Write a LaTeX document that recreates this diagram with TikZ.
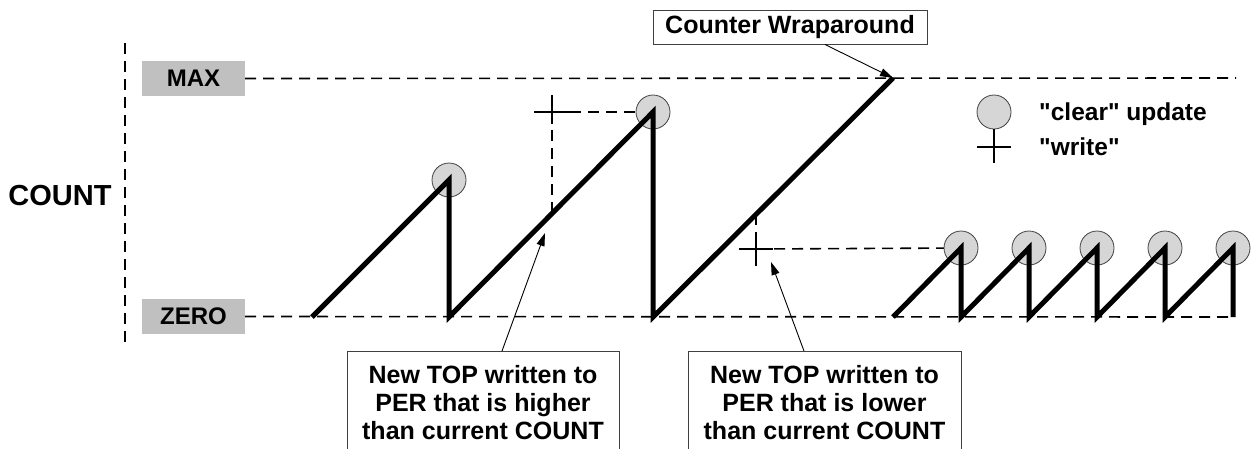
\documentclass[tikz,border=0pt]{standalone}
\usepackage{fontspec}
\setmainfont{Liberation Sans}[Ligatures=TeXOff]
\usetikzlibrary{arrows.meta}
\definecolor{lvlgray}{HTML}{C0C0C0}
\definecolor{dotgray}{HTML}{D6D6D6}
\definecolor{edgegray}{HTML}{404040}
\begin{document}
\begin{tikzpicture}[x=1pt,y=-1pt,
  dsh/.style={line width=1.6pt,dash pattern=on 11pt off 7pt},
  lvl/.style={fill=lvlgray,minimum width=103pt,minimum height=35pt,inner sep=0pt,
    font=\fontsize{24}{28}\selectfont\bfseries},
  clr/.style={circle,fill=dotgray,draw=edgegray,line width=0.8pt,minimum size=34pt,inner sep=0pt},
  ramp/.style={line width=5pt},
  crs/.style={line width=1.3pt},
  txtbox/.style={draw=edgegray,line width=1pt,align=center,inner sep=0pt,
    font=\fontsize{25}{28}\selectfont\bfseries},
  lbl/.style={font=\fontsize{24.5}{28}\selectfont\bfseries,inner sep=0pt},
  arr/.style={line width=0.9pt,-{Triangle[length=13pt,width=8pt]}}]
\useasboundingbox (0,0) rectangle (1252,448);
% axis
\coordinate (axtop) at (125,43);
\coordinate (axbot) at (125,348);
\draw[dsh] (axtop) -- (axbot);
\node[lbl,font=\fontsize{29}{32}\selectfont\bfseries] (count) at (60,196) {COUNT};
% levels
\node[lvl] (max) at (193.5,78.5) {MAX};
\node[lvl] (zero) at (193.5,316.5) {ZERO};
\coordinate (maxend) at (1236,78);
\coordinate (zeroend) at (1234,317);
\draw[dsh] (max.east) -- (maxend);
\draw[dsh] (zero.east) -- (zeroend);
% saw points
\coordinate (s0) at (312,317);
\coordinate (p1) at (449,180); \coordinate (b1) at (449,317);
\coordinate (p2) at (653,112); \coordinate (b2) at (653,317);
\coordinate (w)  at (893,78);  \coordinate (b3) at (893,317);
\coordinate (p4) at (961,248); \coordinate (b4) at (961,317);
\coordinate (p5) at (1029,248); \coordinate (b5) at (1029,317);
\coordinate (p6) at (1097,248); \coordinate (b6) at (1097,317);
\coordinate (p7) at (1165,248); \coordinate (b7) at (1165,317);
\coordinate (p8) at (1233,248); \coordinate (b8) at (1233,317);
% write markers
\coordinate (x1) at (552,112); \coordinate (r1) at (552,214);
\coordinate (x2) at (756,249); \coordinate (r2) at (756,214);
\draw[dsh] (x1) -- (p2);
\draw[dsh] (x1) -- (r1);
\draw[dsh] (x2) -- (p4);
\draw[dsh] (r2) -- (x2);
\draw[crs] ([xshift=-18pt]x1) -- ([xshift=18pt]x1);
\draw[crs] ([yshift=17pt]x1) -- ([yshift=-12pt]x1);
\draw[crs] ([xshift=-17pt]x2) -- ([xshift=17pt]x2);
\draw[crs] ([yshift=17pt]x2) -- ([yshift=-17pt]x2);
% clear updates
\foreach \p in {p1,p2,p4,p5,p6,p7,p8} \node[clr] (c\p) at (\p) {};
% ramps
\draw[ramp] (s0) -- (p1) -- (b1) -- (p2) -- (b2) -- (w);
\draw[ramp] (b3) -- (p4) -- (b4) -- (p5) -- (b5) -- (p6) -- (b6) -- (p7) -- (b7) -- (p8) -- (b8);
% legend
\node[clr] (lc) at (994,112) {};
\coordinate (lx) at (994,147);
\coordinate (lxb) at (994,163);
\draw[crs] (lc.south) -- (lxb);
\draw[crs] ([xshift=-17pt]lx) -- ([xshift=17pt]lx);
\node[lbl,anchor=base west] (lt1) at (1039,120) {"clear" update};
\node[lbl,anchor=base west] (lt2) at (1039,155) {"write"};
% callouts
\node[txtbox,minimum width=274pt,minimum height=34pt] (wrap) at (790,27) {Counter Wraparound};
\draw[arr] ([xshift=35pt]wrap.south) -- (w);
\node[txtbox,minimum width=272pt,minimum height=102pt,anchor=north] (hi) at (483,351)
  {New TOP written to\\PER that is higher\\than current COUNT};
\coordinate (t1) at (545,233);
\draw[arr] ([xshift=19pt]hi.north) -- (t1);
\node[txtbox,minimum width=273pt,minimum height=102pt,anchor=north] (lo) at (824.5,351)
  {New TOP written to\\PER that is lower\\than current COUNT};
\coordinate (t2) at (771,262);
\draw[arr] ([xshift=-20.5pt]lo.north) -- (t2);
\end{tikzpicture}
\end{document}
